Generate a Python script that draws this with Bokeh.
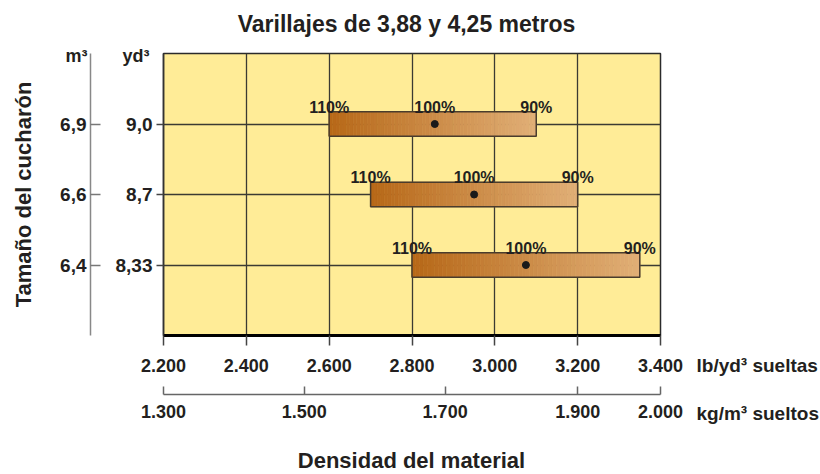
import numpy as np
from bokeh.plotting import figure
from bokeh.models import FactorRange, Range1d, CategoricalAxis, LinearAxis, FixedTicker, Label
from bokeh.core.properties import value
from bokeh.embed import file_html
from bokeh.resources import INLINE

# ---- data ----
yd3_sizes = ["9,0", "8,7", "8,33"]          # bucket size, yd3 (top to bottom)
m3_sizes = ["6,9", "6,6", "6,4"]            # bucket size, m3
dens_110 = [2600, 2700, 2800]               # lb/yd3 at 110 % fill
dens_100 = [2855, 2950, 3075]               # lb/yd3 at 100 % fill
dens_90 = [3100, 3200, 3350]                # lb/yd3 at 90 % fill
pct_labels = ["110%", "100%", "90%"]
lb_ticks = [2200, 2400, 2600, 2800, 3000, 3200, 3400]
lb_tick_labels = ["2.200", "2.400", "2.600", "2.800", "3.000", "3.200", "3.400"]
kg_tick_lb = [2200, 2540, 2880, 3200, 3400]   # lb/yd3 equivalents of kg ticks
kg_tick_labels = ["1.300", "1.500", "1.700", "1.900", "2.000"]
title_text = "Varillajes de 3,88 y 4,25 metros"
x_title_text = "Densidad del material"
unit_texts = ["lb/yd³ sueltas", "kg/m³ sueltos"]
header_texts = ["m³", "yd³"]

FONT = "Liberation Sans"
TXT = "#231f20"

p = figure(width=820, height=474,
           x_range=Range1d(2200, 3400),
           y_range=FactorRange(factors=yd3_sizes[::-1], range_padding=0.5,
                               range_padding_units="absolute"),
           output_backend="svg", toolbar_location=None,
           min_border_left=163, min_border_right=160,
           min_border_top=53, min_border_bottom=139)
p.extra_y_ranges = {"m3": FactorRange(factors=m3_sizes[::-1], range_padding=0.5,
                                      range_padding_units="absolute")}

p.background_fill_color = "#FFEC97"
p.border_fill_color = "white"
p.outline_line_color = "#2b2b2b"
p.outline_line_width = 1.5
p.title.text = ""
p.title.visible = False

# grid
p.xgrid.ticker = FixedTicker(ticks=lb_ticks)
for g in (p.xgrid, p.ygrid):
    g.grid_line_color = "#3b3a33"
    g.grid_line_width = 1.3

# bottom lb axis
xa = p.xaxis[0]
xa.ticker = FixedTicker(ticks=lb_ticks)
xa.major_label_overrides = dict(zip(lb_ticks, lb_tick_labels))
xa.minor_tick_line_color = None
xa.major_tick_in = 0
xa.major_tick_out = 10
xa.major_tick_line_color = "#444444"
xa.major_tick_line_width = 1.5
xa.axis_line_color = "black"
xa.axis_line_width = 3
xa.major_label_standoff = 13
xa.major_label_text_font = FONT
xa.major_label_text_font_size = "18px"
xa.major_label_text_font_style = "bold"
xa.major_label_text_color = TXT
xa.axis_label = " "
xa.axis_label_text_font_size = "14px"
xa.axis_label_standoff = 1

# kg axis
ka = LinearAxis(ticker=FixedTicker(ticks=kg_tick_lb),
                major_label_overrides=dict(zip(kg_tick_lb, kg_tick_labels)))
ka.minor_tick_line_color = None
ka.major_tick_in = 8
ka.major_tick_out = 0
ka.major_tick_line_color = "#666666"
ka.major_tick_line_width = 1.5
ka.axis_line_color = "#666666"
ka.axis_line_width = 1.5
ka.major_label_standoff = 10
ka.major_label_text_font = FONT
ka.major_label_text_font_size = "18px"
ka.major_label_text_font_style = "bold"
ka.major_label_text_color = TXT
p.add_layout(ka, "below")

# yd3 axis (frame edge)
ya = p.yaxis[0]
ya.major_tick_in = 0
ya.major_tick_out = 7
ya.major_tick_line_color = "#444444"
ya.major_tick_line_width = 1.5
ya.axis_line_color = "#333333"
ya.axis_line_width = 1.5
ya.major_label_standoff = 4
ya.major_label_text_font = FONT
ya.major_label_text_font_size = "19px"
ya.major_label_text_font_style = "bold"
ya.major_label_text_color = TXT
ya.axis_label = " "
ya.axis_label_text_font_size = "14px"
ya.axis_label_standoff = 3

# m3 axis
ma = CategoricalAxis(y_range_name="m3")
ma.major_tick_in = 10
ma.major_tick_out = 0
ma.major_tick_line_color = "#777777"
ma.major_tick_line_width = 1.5
ma.axis_line_color = "#888888"
ma.axis_line_width = 1.5
ma.major_label_standoff = 4
ma.major_label_text_font = FONT
ma.major_label_text_font_size = "19px"
ma.major_label_text_font_style = "bold"
ma.major_label_text_color = TXT
ma.axis_label = "Tamaño del cucharón"
ma.axis_label_text_font = FONT
ma.axis_label_text_font_size = "22px"
ma.axis_label_text_font_style = "bold"
ma.axis_label_text_color = TXT
ma.axis_label_standoff = 21
p.add_layout(ma, "left")

# gradient bars
c0 = np.array([183, 104, 24])
c1 = np.array([224, 174, 118])
N = 60
BAR_H = 0.35
for y, lo, hi in zip(yd3_sizes, dens_110, dens_90):
    edges = np.linspace(lo, hi, N + 1)
    t = np.linspace(0, 1, N)
    cols = ["#%02x%02x%02x" % tuple(int(round(v)) for v in c0 + (c1 - c0) * tt) for tt in t]
    p.hbar(y=[y] * N, left=edges[:-1], right=edges[1:], height=BAR_H,
           fill_color=cols, line_color=cols, line_width=0.6)
p.hbar(y=yd3_sizes, left=dens_110, right=dens_90, height=BAR_H,
       fill_color=None, line_color="#4a3c2c", line_width=1.5)
p.scatter(x=dens_100, y=yd3_sizes, size=7, color="#1a1a1a")

# percent labels
tx, ty, tt = [], [], []
for i, y in enumerate(yd3_sizes):
    for xv, lab in zip((dens_110[i], dens_100[i], dens_90[i]), pct_labels):
        tx.append(xv); ty.append(y); tt.append(lab)
p.text(x=tx, y=ty, text=tt, text_align="center", text_baseline="alphabetic",
       y_offset=-17, text_font=value(FONT), text_font_size="16px",
       text_font_style="bold", text_color=TXT)

# free texts in side panels (side-panel annotations are not clipped to the frame)
def mk(text, x, y, align, size, baseline="alphabetic", lh=1.2):
    return Label(x=x, y=y, x_units="screen", y_units="screen", text=text,
                 text_align=align, text_baseline=baseline, text_line_height=lh,
                 text_font=FONT, text_font_size=size,
                 text_font_style="bold", text_color=TXT)

# above: first added is closest to the frame
p.add_layout(mk(header_texts[0] + "\u00a0" * 7 + header_texts[1], -98, -2, "left", "18px"), "above")
p.add_layout(mk(title_text, 243, 10, "center", "23px"), "above")
# right
p.add_layout(mk("\n".join(unit_texts), 36, -54, "left", "19px", "middle", 2.32), "right")
# below (outside the two x axes)
p.add_layout(mk(x_title_text, 248, -15, "center", "22px"), "below")

open("out.html", "w").write(file_html(p, INLINE))
